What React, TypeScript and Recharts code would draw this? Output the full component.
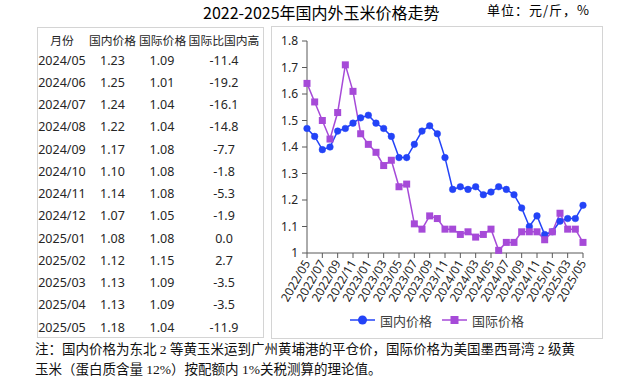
import { LineChart, Line, XAxis, YAxis, Legend } from 'recharts';

const months = [
    '2022/05', '2022/06', '2022/07', '2022/08', '2022/09', '2022/10', '2022/11', '2022/12',
    '2023/01', '2023/02', '2023/03', '2023/04', '2023/05', '2023/06', '2023/07', '2023/08',
    '2023/09', '2023/10', '2023/11', '2023/12', '2024/01', '2024/02', '2024/03', '2024/04',
    '2024/05', '2024/06', '2024/07', '2024/08', '2024/09', '2024/10', '2024/11', '2024/12',
    '2025/01', '2025/02', '2025/03', '2025/04', '2025/05',
];

// 国内价格 (元/斤)
const domestic = [
    1.47, 1.44, 1.39, 1.40, 1.46, 1.47, 1.49, 1.51, 1.52, 1.49,
    1.47, 1.44, 1.36, 1.36, 1.41, 1.46, 1.48, 1.45, 1.36, 1.24,
    1.25, 1.24, 1.25, 1.22, 1.23, 1.25, 1.24, 1.22, 1.17, 1.10,
    1.14, 1.07, 1.08, 1.12, 1.13, 1.13, 1.18,
];

// 国际价格 (元/斤)
const international = [
    1.64, 1.57, 1.50, 1.43, 1.53, 1.71, 1.61, 1.45, 1.41, 1.38,
    1.33, 1.35, 1.25, 1.26, 1.11, 1.09, 1.14, 1.13, 1.09, 1.09,
    1.07, 1.08, 1.06, 1.07, 1.09, 1.01, 1.04, 1.04, 1.08, 1.08,
    1.08, 1.05, 1.08, 1.15, 1.09, 1.09, 1.04,
];

// 国际比国内高 (%), last 13 months
const gapPct = [-11.4, -19.2, -16.1, -14.8, -7.7, -1.8, -5.3, -1.9, 0.0, 2.7, -3.5, -3.5, -11.9];

const yTicks = [1, 1.1, 1.2, 1.3, 1.4, 1.5, 1.6, 1.7, 1.8];
const tableHeaders = ['月份', '国内价格', '国际价格', '国际比国内高'];

const BLUE = '#2343F7';
const PURPLE = '#A64AD8';
const AXIS = '#595959';
const SANS = '"Noto Sans", "Noto Sans CJK SC", sans-serif';
const CJK = '"Noto Sans CJK SC", sans-serif';

const chartData = months.map((m, i) => ({
    month: m,
    domestic: domestic[i],
    international: international[i],
}));

const tableRows = gapPct.map((g, i) => {
    const idx = months.length - gapPct.length + i;
    return [months[idx], domestic[idx].toFixed(2), international[idx].toFixed(2), g.toFixed(1)];
});

const colWidths = [48, 53, 46, 78];

const MonthTick = ({ x, y, payload }: any) => (
    <g transform={`translate(${x},${y})`}>
        <text
            x={0}
            y={0}
            dy="0.35em"
            textAnchor="end"
            transform="rotate(-60)"
            fontSize={12}
            fill="#262626"
            fontFamily={SANS}
        >
            {payload.value}
        </text>
    </g>
);

const SquareDot = ({ cx, cy }: any) => (
    <rect x={cx - 3.5} y={cy - 3.5} width={7} height={7} fill={PURPLE} />
);

const ChartLegend = ({ payload }: any) => (
    <div style={{ display: 'flex', justifyContent: 'center', alignItems: 'center', height: 20, fontFamily: CJK, fontSize: 13, color: '#404040' }}>
        {(payload || []).map((entry: any, i: number) => (
            <div key={entry.value} style={{ display: 'flex', alignItems: 'center', marginLeft: i ? 10 : 0 }}>
                <svg width={25} height={12}>
                    <line x1={0} y1={6} x2={25} y2={6} stroke={entry.color} strokeWidth={1.5} />
                    {entry.dataKey === 'domestic'
                        ? <circle cx={12.5} cy={6} r={4.5} fill={entry.color} />
                        : <rect x={8.5} y={2} width={8} height={8} fill={entry.color} />}
                </svg>
                <span style={{ marginLeft: 5 }}>{entry.value}</span>
            </div>
        ))}
    </div>
);

const App = () => {
    return (
        <div style={{ position: 'absolute', left: 0, top: 0, width: 639, height: 385, background: '#fff', overflow: 'hidden' }}>
            <div style={{ position: 'absolute', left: 203, top: 3, fontFamily: CJK, fontSize: 16, lineHeight: '18px', color: '#000', whiteSpace: 'nowrap' }}>
                2022-2025年国内外玉米价格走势
            </div>
            <div style={{ position: 'absolute', left: 487, top: 2, fontFamily: CJK, fontSize: 13, lineHeight: '16px', color: '#000', letterSpacing: 1, whiteSpace: 'nowrap' }}>
                单位：元/斤，%
            </div>

            <div style={{ position: 'absolute', left: 37, top: 27, width: 225, height: 309, border: '1px solid #d4d4d4', fontFamily: SANS, color: '#262626' }}>
                <div style={{ display: 'flex', position: 'absolute', top: 2, left: 0, height: 19, alignItems: 'center', fontFamily: CJK, fontSize: 11.8 }}>
                    {tableHeaders.map((h, c) => (
                        <div key={h} style={{ width: colWidths[c], textAlign: 'center', whiteSpace: 'nowrap' }}>{h}</div>
                    ))}
                </div>
                {tableRows.map((row, r) => (
                    <div key={row[0]} style={{ display: 'flex', position: 'absolute', left: 0, top: 21 + r * 22.25, height: 22.25, alignItems: 'center', fontSize: 12.5 }}>
                        {row.map((cell, c) => (
                            <div key={c} style={{ width: colWidths[c], textAlign: 'center', whiteSpace: 'nowrap' }}>{cell}</div>
                        ))}
                    </div>
                ))}
            </div>

            <div style={{ position: 'absolute', left: 271, top: 26, width: 330, height: 311, border: '1px solid #d4d4d4' }}>
                <LineChart width={330} height={311} data={chartData} margin={{ top: 14, right: 19, left: 0, bottom: 8 }}>
                    <XAxis
                        dataKey="month"
                        interval={1}
                        height={57}
                        tickSize={5}
                        tickMargin={3}
                        tick={<MonthTick />}
                        axisLine={{ stroke: AXIS }}
                        tickLine={{ stroke: AXIS }}
                    />
                    <YAxis
                        domain={[1, 1.8]}
                        ticks={yTicks}
                        width={35}
                        tickSize={5}
                        tickMargin={4}
                        tick={{ fontSize: 12, fill: '#262626', fontFamily: SANS }}
                        axisLine={{ stroke: AXIS }}
                        tickLine={{ stroke: AXIS }}
                    />
                    <Legend verticalAlign="bottom" content={<ChartLegend />} wrapperStyle={{ left: 0, width: 330 }} />
                    <Line
                        type="linear"
                        dataKey="domestic"
                        name="国内价格"
                        stroke={BLUE}
                        strokeWidth={1.5}
                        dot={{ r: 3.3, fill: BLUE, stroke: BLUE, strokeWidth: 0.5 }}
                        activeDot={false}
                        isAnimationActive={false}
                    />
                    <Line
                        type="linear"
                        dataKey="international"
                        name="国际价格"
                        stroke={PURPLE}
                        strokeWidth={1.5}
                        dot={<SquareDot />}
                        activeDot={false}
                        isAnimationActive={false}
                    />
                </LineChart>
            </div>

            <div style={{ position: 'absolute', left: 35, top: 340, fontFamily: '"Liberation Serif", "Noto Sans CJK SC", serif', fontSize: 13.5, lineHeight: '20px', color: '#111', whiteSpace: 'nowrap' }}>
                <div>注：国内价格为东北 2 等黄玉米运到广州黄埔港的平仓价，国际价格为美国墨西哥湾 2 级黄</div>
                <div>玉米（蛋白质含量 12%）按配额内 1%关税测算的理论值。</div>
            </div>
        </div>
    );
};

export default App;
